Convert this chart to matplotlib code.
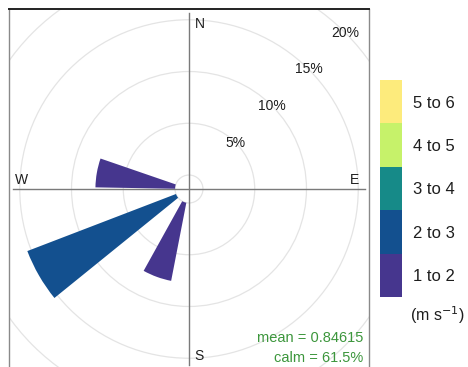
import numpy as np
import matplotlib
matplotlib.use("Agg")
import matplotlib.pyplot as plt
from matplotlib.patches import Wedge, Circle
from matplotlib.colors import ListedColormap, BoundaryNorm
from matplotlib.cm import ScalarMappable

plt.rcParams["font.family"] = ["Liberation Sans", "DejaVu Sans"]

# Wind directions (degrees from north) and frequency (%) in each speed bin
directions = [200, 240, 280]
speed_bins = ["1 to 2", "2 to 3", "3 to 4", "4 to 5", "5 to 6"]
freq_1_2 = [7.69, 0.0, 7.69]
freq_2_3 = [0.0, 15.38, 0.0]
freq_3_4 = [0.0, 0.0, 0.0]
freq_4_5 = [0.0, 0.0, 0.0]
freq_5_6 = [0.0, 0.0, 0.0]
bin_colors = ["#46368e", "#13508f", "#168a88", "#c6f26a", "#fdeb7c"]

grid_levels = [5, 10, 15, 20]
mean_speed = 0.84615
calm_pct = 61.5

offset = 1.35        # radius of the calm circle, in % units
bar_width = 18       # wedge width in degrees
half = 17.39         # half-width of the panel in % units

fig = plt.figure(figsize=(4.68, 3.67), dpi=100)
ax = fig.add_axes([9 / 468, -2 / 367, 360 / 468, 360 / 367])
ax.set_xlim(-half, half)
ax.set_ylim(-half, half)
ax.set_xticks([])
ax.set_yticks([])
ax.spines["bottom"].set_visible(False)
ax.spines["top"].set_color("#222222")
ax.spines["top"].set_linewidth(1.4)
for side in ("left", "right"):
    ax.spines[side].set_color("#8a8a8a")
    ax.spines[side].set_linewidth(1.0)

# grid circles and calm circle
for lev in grid_levels:
    ax.add_patch(Circle((0, 0), lev + offset, fill=False, ec="#e4e4e4", lw=0.9, zorder=1))
ax.add_patch(Circle((0, 0), offset, fill=False, ec="#e4e4e4", lw=0.9, zorder=1))

# cross-hair axes
ax.plot([-17.0, 17.0], [0, 0], color="#7a7a7a", lw=1.0, zorder=2)
ax.plot([0, 0], [-17.0, 17.0], color="#7a7a7a", lw=1.0, zorder=2)

# stacked wedges
table = [freq_1_2, freq_2_3, freq_3_4, freq_4_5, freq_5_6]
base = np.zeros(len(directions))
for vals, col in zip(table, bin_colors):
    vals = np.asarray(vals)
    for i, d in enumerate(directions):
        if vals[i] <= 0:
            continue
        # compass angle -> matplotlib angle (counter-clockwise from east)
        t1 = 90 - (d + bar_width / 2)
        t2 = 90 - (d - bar_width / 2)
        r_in = offset + base[i]
        r_out = offset + base[i] + vals[i]
        ax.add_patch(Wedge((0, 0), r_out, t1, t2, width=r_out - r_in,
                           fc=col, ec="none", zorder=3))
    base += vals

txt = "#1e1e1e"
# percentage labels along the 45 degree line
for lev in grid_levels:
    r = lev + offset
    ax.text(r * np.cos(np.pi / 4), r * np.sin(np.pi / 4), f"{lev}%",
            ha="center", va="center", fontsize=10, color=txt, zorder=4)

# compass labels
ax.text(0.55, 15.95, "N", ha="left", va="center", fontsize=10, color=txt)
ax.text(0.55, -16.1, "S", ha="left", va="center", fontsize=10, color=txt)
ax.text(-16.2, 0.85, "W", ha="center", va="center", fontsize=10, color=txt)
ax.text(15.95, 0.85, "E", ha="center", va="center", fontsize=10, color=txt)

# summary statistics
ax.text(16.85, -14.4, f"mean = {mean_speed:.5f}", ha="right", va="center",
        fontsize=10.5, color="#3c963c")
ax.text(16.85, -16.35, f"calm = {calm_pct}%", ha="right", va="center",
        fontsize=10.5, color="#3c963c")

# speed legend
cax = fig.add_axes([380 / 468, (367 - 297) / 367, 22 / 468, 217 / 367])
cmap = ListedColormap(bin_colors)
norm = BoundaryNorm(np.arange(len(speed_bins) + 1), cmap.N)
cb = fig.colorbar(ScalarMappable(norm=norm, cmap=cmap), cax=cax)
cb.set_ticks(np.arange(len(speed_bins)) + 0.5)
cb.set_ticklabels(speed_bins)
cb.outline.set_visible(False)
cax.minorticks_off()
cax.tick_params(which="both", length=0, pad=8, labelsize=12, labelcolor=txt)
fig.text(410 / 468, (367 - 315) / 367, "(m s$^{-1}$)", ha="left", va="center",
         fontsize=11.5, color=txt)

fig.savefig("out.png", dpi=100)
